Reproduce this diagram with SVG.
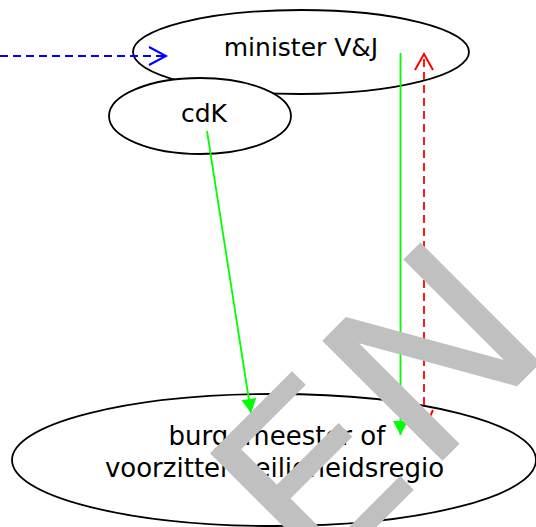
<svg xmlns="http://www.w3.org/2000/svg" width="536" height="527" viewBox="0 0 536 527">
<style>
.node ellipse{fill:#fff;stroke:#000;stroke-width:1.8}
.lbl{font-family:"DejaVu Sans",Verdana,sans-serif;font-size:25px;fill:#000;text-anchor:middle}
.big{font-size:26px}
.wm{font-family:"DejaVu Sans",sans-serif;font-size:233px;fill:#c0c0c0}
</style>
<defs>
<marker id="openBlue" markerUnits="userSpaceOnUse" markerWidth="24" markerHeight="24" refX="18" refY="10" orient="auto" overflow="visible">
<path d="M1,1 L18,10 L1,19" fill="none" stroke="#0000ff" stroke-width="2"/>
</marker>
<marker id="openRed" markerUnits="userSpaceOnUse" markerWidth="24" markerHeight="24" refX="17" refY="9" orient="auto" overflow="visible">
<path d="M1,0 L17,9 L1,18" fill="none" stroke="#ff0000" stroke-width="2"/>
</marker>
<marker id="openRedB" markerUnits="userSpaceOnUse" markerWidth="24" markerHeight="24" refX="20" refY="9" orient="auto" overflow="visible">
<path d="M0,0 L20,9 L0,18" fill="none" stroke="#ff0000" stroke-width="2"/>
</marker>
<marker id="fillGreen" markerUnits="userSpaceOnUse" markerWidth="20" markerHeight="20" refX="14" refY="7.5" orient="auto" overflow="visible">
<path d="M0,0 L14,7.5 L0,15 Z" fill="#00ff00"/>
</marker>
</defs>
<g id="minister" class="node">
<ellipse cx="301" cy="52" rx="168" ry="42"/>
<text class="lbl" x="301" y="56">minister V&amp;J</text>
</g>
<g id="cdk" class="node">
<ellipse cx="200" cy="116" rx="91" ry="38"/>
<text class="lbl" x="204" y="122">cdK</text>
</g>
<g id="burgemeester" class="node">
<ellipse cx="274" cy="460" rx="262" ry="66"/>
<text class="lbl big" x="277" y="445">burgemeester of</text>
<text class="lbl big" x="274.5" y="477">voorzitter veiligheidsregio</text>
</g>
<g id="connectors">
<line x1="0" y1="56" x2="166" y2="56" stroke="#0000ff" stroke-width="1.8" stroke-dasharray="8,5" marker-end="url(#openBlue)"/>
<line x1="207" y1="131" x2="251" y2="413" stroke="#00ff00" stroke-width="1.8" marker-end="url(#fillGreen)"/>
<line x1="400.5" y1="53" x2="400.5" y2="435" stroke="#00ff00" stroke-width="1.8" marker-end="url(#fillGreen)"/>
<line x1="424" y1="418" x2="424" y2="54" stroke="#ff0000" stroke-width="1.8" stroke-dasharray="8,5" marker-end="url(#openRed)"/>
<line x1="424" y1="420" x2="424" y2="430" stroke="none" marker-end="url(#openRedB)"/>
</g>
<text class="wm" transform="translate(312.7 590.7) rotate(-45) scale(1.08 1)" x="0" y="0">EN</text>
</svg>
